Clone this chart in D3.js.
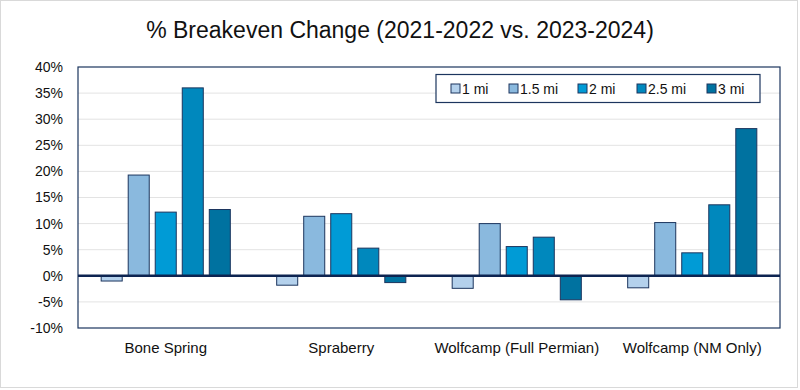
<!DOCTYPE html>
<html><head><meta charset="utf-8">
<script src="https://cdn.jsdelivr.net/npm/d3@7"></script>
<style>body{margin:0;background:#fff;} svg{display:block;font-family:"Liberation Sans",Arial,sans-serif;}</style>
</head><body><div id="chart"></div>
<script>
const title = "% Breakeven Change (2021-2022 vs. 2023-2024)";
const categories = ["Bone Spring", "Spraberry", "Wolfcamp (Full Permian)", "Wolfcamp (NM Only)"];
const seriesNames = ["1 mi", "1.5 mi", "2 mi", "2.5 mi", "3 mi"];
const seriesColors = ["#b4d1ec", "#8ab9de", "#009bd6", "#0088bd", "#0072a0"];
const s1mi  = [-1.0, -1.8, -2.4, -2.3];
const s15mi = [19.3, 11.4, 10.0, 10.2];
const s2mi  = [12.2, 11.9, 5.6, 4.4];
const s25mi = [36.0, 5.3, 7.4, 13.6];
const s3mi  = [12.7, -1.3, -4.6, 28.2];
const seriesValues = [s1mi, s15mi, s2mi, s25mi, s3mi];
const yTicks = [-10, -5, 0, 5, 10, 15, 20, 25, 30, 35, 40];

const W = 800, H = 390;
const m = {left: 78, right: 20, top: 67, bottom: 62};
const svg = d3.select("#chart").append("svg").attr("width", W).attr("height", H);
svg.append("rect").attr("x",0.5).attr("y",0.5).attr("width",W-3).attr("height",H-3)
  .attr("fill","#fff").attr("stroke","#d9d9d9");

const x0 = d3.scaleBand().domain(categories).range([m.left, W - m.right]).paddingInner(0.23).paddingOuter(0.115);
const x1 = d3.scaleBand().domain(seriesNames).range([0, x0.bandwidth()]).paddingInner(0.222).paddingOuter(0.111);
const y = d3.scaleLinear().domain([-10, 40]).range([H - m.bottom, m.top]);

// gridlines
svg.append("g").selectAll("line").data(yTicks.filter(t => t !== 0 && t !== -10 && t !== 40)).join("line")
  .attr("x1", m.left).attr("x2", W - m.right).attr("y1", d => y(d)).attr("y2", d => y(d))
  .attr("stroke", "#e3e3e3").attr("stroke-width", 1);

// y axis labels
const yAxis = d3.axisLeft(y).tickValues(yTicks).tickFormat(d => d + "%").tickSize(0).tickPadding(15);
const ya = svg.append("g").attr("transform", `translate(${m.left},0)`).call(yAxis);
ya.select(".domain").remove();
ya.selectAll("text").attr("font-size", 14).attr("fill", "#111").attr("font-family", "Liberation Sans, Arial, sans-serif");

// bars
const data = [];
categories.forEach((c, i) => seriesNames.forEach((s, j) => data.push({c, s, j, v: seriesValues[j][i]})));
svg.append("g").selectAll("rect").data(data).join("rect")
  .attr("x", d => x0(d.c) + x1(d.s))
  .attr("width", x1.bandwidth())
  .attr("y", d => y(Math.max(0, d.v)))
  .attr("height", d => Math.abs(y(d.v) - y(0)))
  .attr("fill", d => seriesColors[d.j])
  .attr("stroke", "#1c355e").attr("stroke-width", 1);

// plot border
svg.append("rect").attr("x", m.left).attr("y", m.top).attr("width", W - m.right - m.left).attr("height", H - m.bottom - m.top)
  .attr("fill", "none").attr("stroke", "#1c355e").attr("stroke-width", 1.2);

// zero line
svg.append("line").attr("x1", m.left).attr("x2", W - m.right).attr("y1", y(0)).attr("y2", y(0))
  .attr("stroke", "#0d2451").attr("stroke-width", 2.5);

// x axis labels
const xAxis = d3.axisBottom(x0).tickSize(0).tickPadding(14);
const xa = svg.append("g").attr("transform", `translate(0,${H - m.bottom})`).call(xAxis);
xa.select(".domain").remove();
xa.selectAll("text").attr("font-size", 15).attr("fill", "#111").attr("font-family", "Liberation Sans, Arial, sans-serif");

// title
svg.append("text").attr("x", 400).attr("y", 38).attr("text-anchor", "middle")
  .attr("font-size", 23).attr("fill", "#111").text(title);

// legend
const legX = [451, 509, 578, 637, 707];
const lg = svg.append("g");
lg.append("rect").attr("x", 436).attr("y", 74.5).attr("width", 324).attr("height", 28)
  .attr("fill", "#fff").attr("stroke", "#1c355e").attr("stroke-width", 1.2);
seriesNames.forEach((s, j) => {
  lg.append("rect").attr("x", legX[j]).attr("y", 84).attr("width", 9).attr("height", 9)
    .attr("fill", seriesColors[j]).attr("stroke", "#1c355e").attr("stroke-width", 1);
  lg.append("text").attr("x", legX[j] + 11).attr("y", 93.5).attr("font-size", 14).attr("fill", "#111").text(s);
});
</script></body></html>
